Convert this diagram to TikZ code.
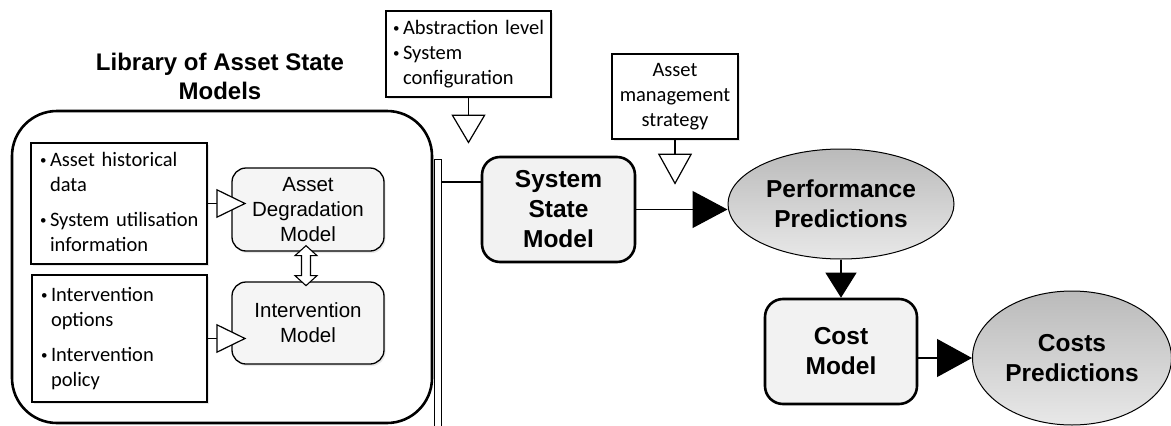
\documentclass[tikz,border=0pt]{standalone}
\usepackage{fontspec}
\setmainfont{Liberation Sans}
\newfontfamily\calfont{Carlito}
\usetikzlibrary{arrows.meta,shapes.geometric,calc,shadows}
\newcommand{\bul}{\makebox[10pt][l]{\raisebox{1.5pt}{\fontsize{13}{13}\selectfont•}}}
\begin{document}
\begin{tikzpicture}[x=1pt,y=-1pt,
  softshadow/.style={drop shadow={opacity=0.18,shadow xshift=1.5pt,shadow yshift=-2pt}},
  bullbox/.style={draw,line width=1.3pt,fill=white,inner xsep=9pt,inner ysep=0pt,
    font=\calfont\fontsize{20.5}{25}\selectfont,align=left,softshadow},
  modelbox/.style={draw,line width=1.3pt,rounded corners=14pt,inner sep=0pt,
    fill=black!4,
    font=\fontsize{20.5}{25}\selectfont,align=center,softshadow,
    minimum width=152pt,minimum height=83pt},
  boldbox/.style={draw,line width=2.6pt,rounded corners=18pt,fill=black!5,inner sep=0pt,
    font=\bfseries\fontsize{24.5}{30}\selectfont,align=center,
    minimum width=153pt,minimum height=105pt},
  result/.style={draw,ellipse,line width=1pt,inner sep=0pt,
    top color=black!27,bottom color=black!9,
    font=\bfseries\fontsize{24.5}{30}\selectfont,align=center},
  conn/.style={line width=1.2pt},
  openarrow/.style={conn,-{Triangle[length=30pt,width=29pt,fill=white,line width=1.2pt]}},
  solidarrow/.style={conn,-{Triangle[length=35pt,width=37pt]}}
]
\useasboundingbox (0,0) rectangle (1171,426);

% library container
\node[draw,line width=2.6pt,rounded corners=45pt,minimum width=420pt,minimum height=312pt,inner sep=0pt]
  (lib) at (222,267) {};
\node[font=\bfseries\fontsize{24}{29}\selectfont,align=center] (libtitle) at (220,76)
  {Library of Asset State\\Models};

% input boxes
\node[bullbox,text width=158pt,minimum height=121pt] (hist) at (119,203.5)
  {\begin{tabular}{@{}l@{}l@{}}\bul&Asset historical\\&data\\[10pt]\bul&System utilisation\\&information\end{tabular}};
\node[bullbox,text width=157pt,minimum height=127pt] (interv) at (119.5,338.5)
  {\begin{tabular}{@{}l@{}l@{}}\bul&Intervention\\&options\\[10pt]\bul&Intervention\\&policy\end{tabular}};

% models
\node[modelbox] (adm) at (308,209.5) {Asset\\Degradation\\Model};
\node[modelbox,minimum height=82pt] (im) at (308,323) {Intervention\\Model};

% arrows inside library
\draw[openarrow,shorten >=-15pt] (hist.east) -- (hist.east -| adm.west);
\draw[openarrow,shorten >=-15pt] (interv.east) -- (interv.east -| im.west);
\coordinate (dtop) at ($(adm.south)+(-2,-6)$);
\draw[line width=1.1pt,fill=white] (dtop) -- ++(11,10) -- ++(-6.5,0) -- ++(0,20) -- ++(6.5,0)
  -- ++(-11,10) -- ++(-11,-10) -- ++(6.5,0) -- ++(0,-20) -- ++(-6.5,0) -- cycle;

% bar
\node[draw,line width=1pt,fill=white,minimum width=7pt,minimum height=275pt,inner sep=0pt]
  (bar) at (437.5,296.5) {};

% top boxes
\node[bullbox,inner xsep=7pt,text width=151pt,minimum height=86pt] (abs) at (468.5,54)
  {\begin{tabular}{@{}l@{}l@{}}\bul&Abstraction level\\\bul&System\\&configuration\end{tabular}};
\node[bullbox,align=center,inner xsep=0pt,minimum width=126pt,minimum height=85pt] (ams) at (675,96.5)
  {Asset\\management\\strategy};

% main models
\node[boldbox] (ssm) at (558.5,209.5) {System\\State\\Model};
\node[result,minimum width=226pt,minimum height=110pt] (pp) at (841,204) {Performance\\Predictions};
\node[boldbox,minimum width=152pt] (cost) at (841,351.5) {Cost\\Model};
\node[result,minimum width=199pt,minimum height=134pt] (cp) at (1072,358) {Costs\\Predictions};

% connectors
\coordinate (lvl) at (0,182);
\draw[conn] (bar.east |- lvl) -- (ssm.west |- lvl);
\coordinate (abstip) at ($(abs.south)+(0,46)$);
\draw[conn,-{Triangle[length=29pt,width=34pt,fill=white,line width=1.2pt]}] (abs.south) -- (abstip);
\coordinate (amstip) at ($(ams.south)+(0,45)$);
\draw[conn,-{Triangle[length=31pt,width=34pt,fill=white,line width=1.2pt]}] (ams.south) -- (amstip);
\draw[solidarrow] (ssm.east) -- (ssm.east -| pp.west);
\draw[conn,-{Triangle[length=25pt,width=31pt]}] (pp.south) -- (cost.north);
\draw[solidarrow,-{Triangle[length=35pt,width=38pt]}] (cost.east |- cp.west) -- (cp.west);
\end{tikzpicture}
\end{document}
